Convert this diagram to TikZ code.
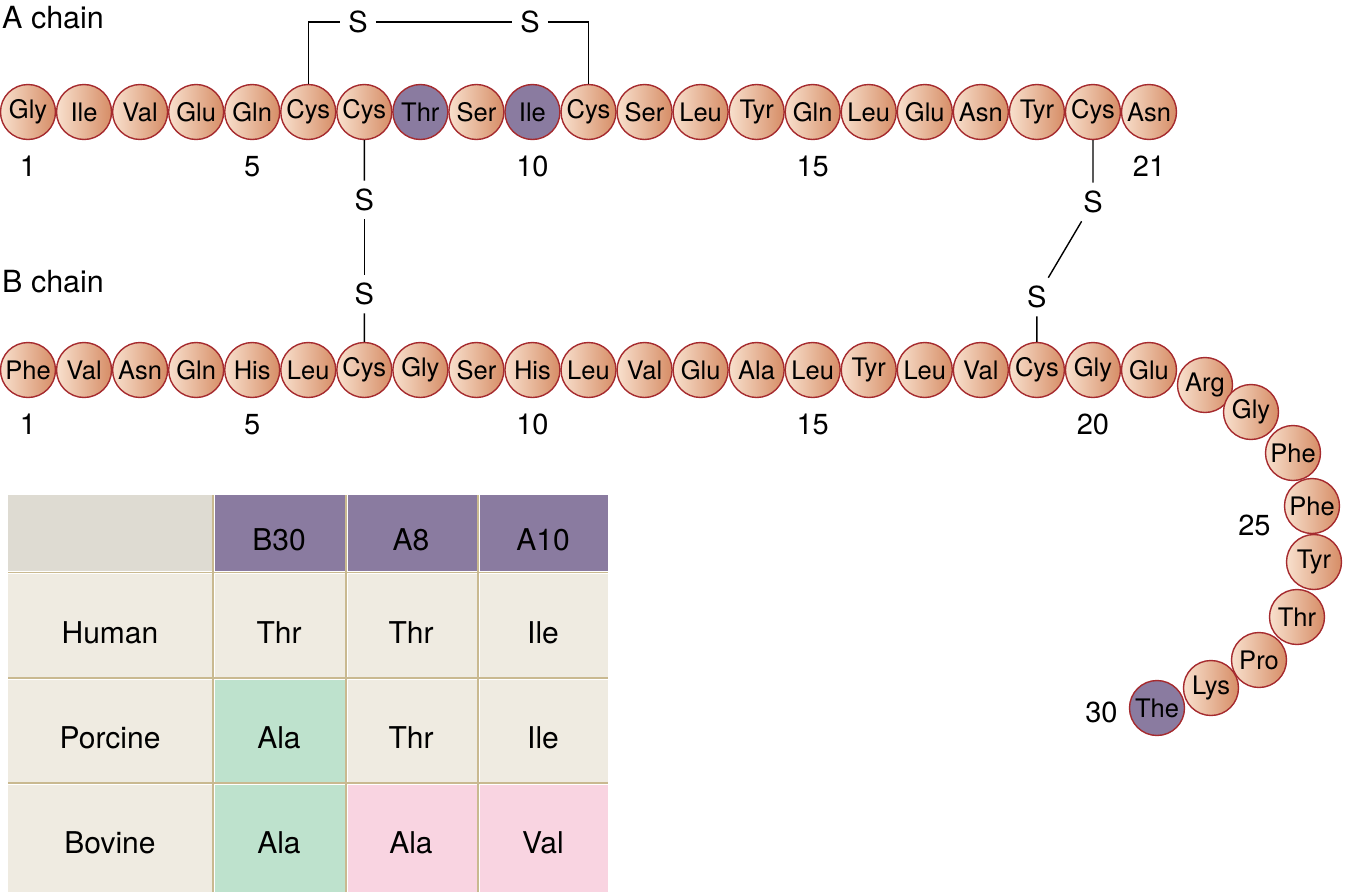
\documentclass[tikz,border=0pt]{standalone}
\usepackage{fontspec}
\setmainfont{TeX Gyre Heros}
\usetikzlibrary{positioning}

\definecolor{peachlo}{HTML}{F8E0CD}
\definecolor{peachhi}{HTML}{D68D66}
\definecolor{rim}{HTML}{A52A2E}
\definecolor{mauve}{HTML}{8A7BA0}
\definecolor{cream}{HTML}{EFEBE1}
\definecolor{hdgray}{HTML}{DEDBD2}
\definecolor{mint}{HTML}{BEE2CD}
\definecolor{blush}{HTML}{F9D4E1}
\definecolor{rule}{HTML}{C9B990}

\begin{document}
\begin{tikzpicture}[x=1pt, y=-1pt,
	bead/.style={circle, draw=rim, line width=1.4pt, minimum size=55pt, inner sep=0pt,
		font=\fontsize{25.5}{25.5}\selectfont},
	res/.style={bead, left color=peachlo, right color=peachhi},
	swap/.style={bead, fill=mauve},
	num/.style={inner sep=0pt, font=\fontsize{29}{29}\selectfont},
	chainlbl/.style={inner sep=0pt, font=\fontsize{30.5}{30.5}\selectfont},
	sulf/.style={inner sep=8pt, font=\fontsize{29}{29}\selectfont},
	bond/.style={line width=1.4pt},
	cell/.style={inner sep=0pt, font=\fontsize{30}{30}\selectfont}]
	\useasboundingbox (0,0) rectangle (1346,892);

	% A chain
	\node[chainlbl, anchor=west] (alabel) at (2,18) {A chain};
	\foreach \r/\s [count=\i] in {Gly/res,Ile/res,Val/res,Glu/res,Gln/res,Cys/res,Cys/res,
			Thr/swap,Ser/res,Ile/swap,Cys/res,Ser/res,Leu/res,Tyr/res,Gln/res,Leu/res,
			Glu/res,Asn/res,Tyr/res,Cys/res,Asn/res}
		\node[\s] (a\i) at ({28+56.05*(\i-1)},112) {\r};
	\foreach \i in {1,5,10,15,21}
		\node[num, below=16pt of a\i] (na\i) {\i};

	% B chain
	\node[chainlbl, anchor=west] (blabel) at (2,282) {B chain};
	\foreach \r [count=\i] in {Phe,Val,Asn,Gln,His,Leu,Cys,Gly,Ser,His,Leu,Val,Glu,Ala,
			Leu,Tyr,Leu,Val,Cys,Gly,Glu}
		\node[res] (b\i) at ({28+56.05*(\i-1)},370) {\r};
	\foreach \r/\s/\x/\y [count=\i from 22] in {Arg/res/1205/385, Gly/res/1251/412,
			Phe/res/1293/453, Phe/res/1312/506, Tyr/res/1314/562, Thr/res/1297/617,
			Pro/res/1259/660, Lys/res/1211/688, The/swap/1157/708}
		\node[\s] (b\i) at (\x,\y) {\r};
	\foreach \i in {1,5,10,15,20}
		\node[num, below=16pt of b\i] (nb\i) {\i};
	\node[num, left=13pt of b25, yshift=-19pt] (nb25) {25};
	\node[num, left=11pt of b30, yshift=-4pt] (nb30) {30};

	% disulfide bridges
	\node[sulf] (s1) at (358,22) {S};
	\node[sulf] (s2) at (530,22) {S};
	\node[sulf] (s3) at (364.3,200) {S};
	\node[sulf] (s4) at (364.3,294) {S};
	\node[sulf] (s5) at (1093,202) {S};
	\node[sulf] (s6) at (1036.9,297) {S};
	\draw[bond] (a6.north) |- (s1);
	\draw[bond] (s1) -- (s2);
	\draw[bond] (s2) -| (a11.north);
	\draw[bond] (a7) -- (s3);
	\draw[bond] (s3) -- (s4);
	\draw[bond] (s4) -- (b7);
	\draw[bond] (a20) -- (s5);
	\draw[bond] (s5) -- (s6);
	\draw[bond] (s6) -- (b19);

	% species table
	\fill[hdgray] (8,495) rectangle (211.5,571);
	\foreach \l/\r in {214.5/344.5, 347.5/476.5, 479.5/608}
		\fill[mauve] (\l,495) rectangle (\r,571);
	\foreach \t/\b in {574/676.5, 679.5/781.5, 784.5/892}
		\foreach \l/\r in {8/211.5, 214.5/344.5, 347.5/476.5, 479.5/608}
			\fill[cream] (\l,\t) rectangle (\r,\b);
	\fill[mint] (214.5,679.5) rectangle (344.5,781.5);
	\fill[mint] (214.5,784.5) rectangle (344.5,892);
	\fill[blush] (347.5,784.5) rectangle (476.5,892);
	\fill[blush] (479.5,784.5) rectangle (608,892);
	\foreach \x in {213,346,478}
		\draw[rule, line width=1.2pt] (\x,495) -- (\x,892);
	\foreach \y in {572.5,678,783}
		\draw[rule, line width=1.2pt] (8,\y) -- (608,\y);
	\node[cell] (hb30) at (279,540) {B30};
	\node[cell] (ha8) at (411,540) {A8};
	\node[cell] (ha10) at (543,540) {A10};
	\foreach \n/\p/\q/\s [count=\i] in {Human/Thr/Thr/Ile, Porcine/Ala/Thr/Ile, Bovine/Ala/Ala/Val} {
		\node[cell] (sp\i) at (110,{528+105*\i}) {\n};
		\node[cell] (pb\i) at (279,{528+105*\i}) {\p};
		\node[cell] (pa\i) at (411,{528+105*\i}) {\q};
		\node[cell] (pc\i) at (543,{528+105*\i}) {\s};
	}
\end{tikzpicture}
\end{document}
